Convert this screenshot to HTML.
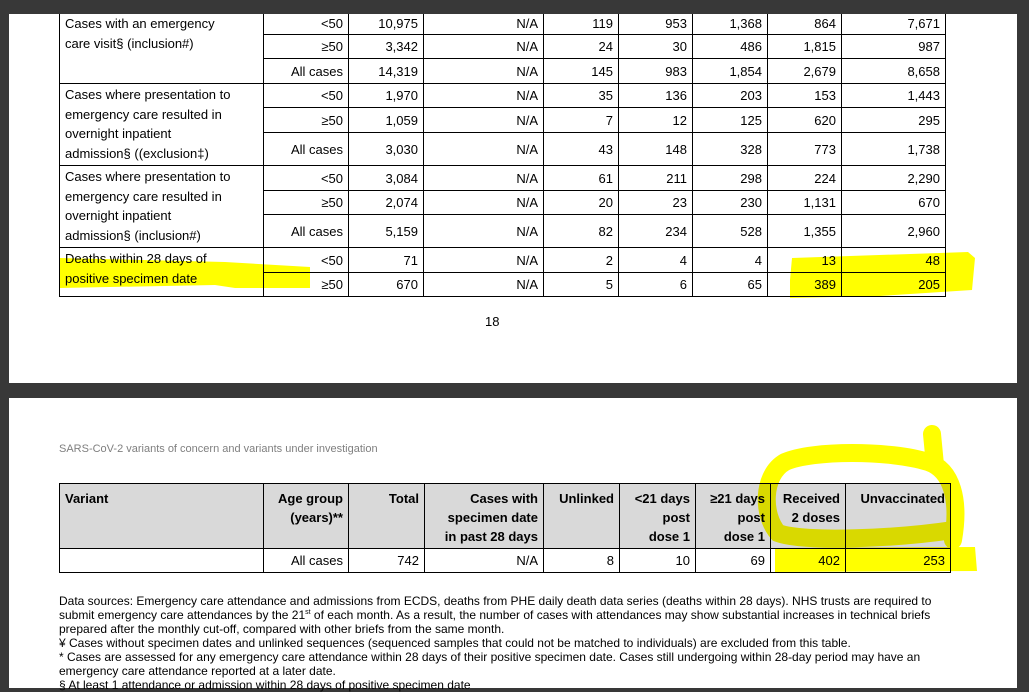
<!DOCTYPE html>
<html><head><meta charset="utf-8"><style>
body{margin:0;width:1029px;height:684px;background:#383838;position:relative;overflow:hidden;font-family:"Liberation Sans",Arial,sans-serif;color:#000}
.page{position:absolute;background:#fff;overflow:hidden}
table{border-collapse:collapse;table-layout:fixed;position:absolute;font-size:13px}
td{border:1px solid #000;padding:0 5px;text-align:right;vertical-align:middle;white-space:nowrap;overflow:hidden}
td.l{text-align:left;vertical-align:top;line-height:19.5px;padding-top:1px}
.t2 td{vertical-align:top}
.t2 tr.h td{background:#d9d9d9;font-weight:bold;line-height:19px;padding-top:5px}
.t2 tr.d td{vertical-align:middle}
.foot{position:absolute;left:59px;top:594px;font-size:12px;line-height:14px;white-space:nowrap}
svg{position:absolute;left:0;top:0;mix-blend-mode:multiply}
</style></head><body>
<div class="page" style="left:9px;top:14px;width:1008px;height:369px">
<table style="left:50px;top:-2px;width:886px">
<colgroup><col style="width:204px"><col style="width:85px"><col style="width:75px"><col style="width:120px"><col style="width:75px"><col style="width:74px"><col style="width:75px"><col style="width:74px"><col style="width:104px"></colgroup>
<tr style="height:22px"><td class="l" rowspan="3">Cases with an emergency<br>care visit§ (inclusion#)</td><td>&lt;50</td><td>10,975</td><td>N/A</td><td>119</td><td>953</td><td>1,368</td><td>864</td><td>7,671</td></tr>
<tr style="height:24px"><td>≥50</td><td>3,342</td><td>N/A</td><td>24</td><td>30</td><td>486</td><td>1,815</td><td>987</td></tr>
<tr style="height:25px"><td>All cases</td><td>14,319</td><td>N/A</td><td>145</td><td>983</td><td>1,854</td><td>2,679</td><td>8,658</td></tr>
<tr style="height:24px"><td class="l" rowspan="3">Cases where presentation to<br>emergency care resulted in<br>overnight inpatient<br>admission§ ((exclusion‡)</td><td>&lt;50</td><td>1,970</td><td>N/A</td><td>35</td><td>136</td><td>203</td><td>153</td><td>1,443</td></tr>
<tr style="height:25px"><td>≥50</td><td>1,059</td><td>N/A</td><td>7</td><td>12</td><td>125</td><td>620</td><td>295</td></tr>
<tr style="height:33px"><td>All cases</td><td>3,030</td><td>N/A</td><td>43</td><td>148</td><td>328</td><td>773</td><td>1,738</td></tr>
<tr style="height:25px"><td class="l" rowspan="3">Cases where presentation to<br>emergency care resulted in<br>overnight inpatient<br>admission§ (inclusion#)</td><td>&lt;50</td><td>3,084</td><td>N/A</td><td>61</td><td>211</td><td>298</td><td>224</td><td>2,290</td></tr>
<tr style="height:24px"><td>≥50</td><td>2,074</td><td>N/A</td><td>20</td><td>23</td><td>230</td><td>1,131</td><td>670</td></tr>
<tr style="height:33px"><td>All cases</td><td>5,159</td><td>N/A</td><td>82</td><td>234</td><td>528</td><td>1,355</td><td>2,960</td></tr>
<tr style="height:25px"><td class="l" rowspan="2">Deaths within 28 days of<br>positive specimen date</td><td>&lt;50</td><td>71</td><td>N/A</td><td>2</td><td>4</td><td>4</td><td>13</td><td>48</td></tr>
<tr style="height:24px"><td>≥50</td><td>670</td><td>N/A</td><td>5</td><td>6</td><td>65</td><td>389</td><td>205</td></tr>
</table>
<div style="position:absolute;left:476px;top:300px;font-size:13px">18</div>
</div>
<div class="page" style="left:9px;top:398px;width:1008px;height:290px">
<div style="position:absolute;left:50px;top:45px;font-size:11px;color:#7f7f7f">SARS-CoV-2 variants of concern and variants under investigation</div>
<table class="t2" style="left:50px;top:85px;width:891px">
<colgroup><col style="width:204px"><col style="width:85px"><col style="width:76px"><col style="width:119px"><col style="width:76px"><col style="width:76px"><col style="width:75px"><col style="width:75px"><col style="width:105px"></colgroup>
<tr class="h" style="height:65px"><td style="text-align:left">Variant</td><td>Age group<br>(years)**</td><td>Total</td><td>Cases with<br>specimen date<br>in past 28 days</td><td>Unlinked</td><td>&lt;21 days<br>post<br>dose 1</td><td>≥21 days<br>post<br>dose 1</td><td>Received<br>2 doses</td><td>Unvaccinated</td></tr>
<tr class="d" style="height:24px"><td></td><td>All cases</td><td>742</td><td>N/A</td><td>8</td><td>10</td><td>69</td><td>402</td><td>253</td></tr>
</table>
</div>
<div class="foot">Data sources: Emergency care attendance and admissions from ECDS, deaths from PHE daily death data series (deaths within 28 days). NHS trusts are required to<br>submit emergency care attendances by the 21<sup style="font-size:7px;line-height:0">st</sup> of each month. As a result, the number of cases with attendances may show substantial increases in technical briefs<br>prepared after the monthly cut-off, compared with other briefs from the same month.<br>¥ Cases without specimen dates and unlinked sequences (sequenced samples that could not be matched to individuals) are excluded from this table.<br>* Cases are assessed for any emergency care attendance within 28 days of their positive specimen date. Cases still undergoing within 28-day period may have an<br>emergency care attendance reported at a later date.<br>§ At least 1 attendance or admission within 28 days of positive specimen date</div>
<svg width="1029" height="684" viewBox="0 0 1029 684">
<path d="M60 258 L225 262 L310 267 L310 288 L235 288 L215 285 L60 288 Z" fill="#ffff00"/>
<path d="M792 258 L968 252 L975 258 L972 290 L880 296 L790 298 L790 280 Z" fill="#ffff00"/>
<path d="M775 548 L975 547 L977 571 L775 572 Z" fill="#ffff00"/>
<path d="M932 434 L935 465 M953 540 C960 500 952 470 928 462 C890 450 812 450 785 462 C762 475 762 515 778 533 C805 543 900 538 953 530" fill="none" stroke="#ffff00" stroke-width="18" stroke-linecap="round"/>
</svg>
</body></html>
